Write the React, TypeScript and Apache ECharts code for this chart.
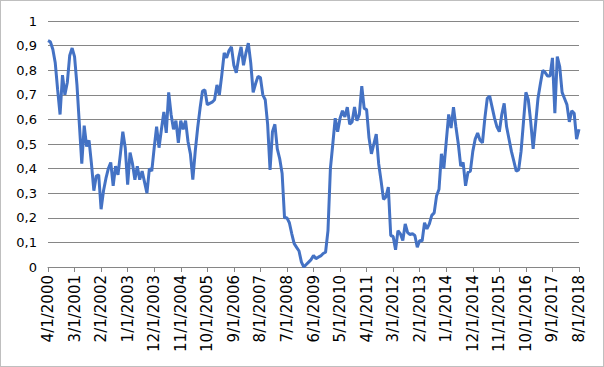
import React, { useEffect, useRef } from "react";
import * as echarts from "echarts";

// Monthly series, April 2000 .. August 2018 (221 points), split by period
const values2000to2002: number[] = [
  0.92, 0.915, 0.885, 0.83, 0.72, 0.62, 0.78, 0.70, 0.75, 0.86, 0.89, 0.855,
  0.74, 0.58, 0.42, 0.575, 0.49, 0.515, 0.42, 0.31, 0.37, 0.375, 0.235, 0.31,
  0.36, 0.40, 0.425, 0.33, 0.41, 0.375, 0.46, 0.55, 0.485, 0.335, 0.465, 0.42,
];
const values2003to2005: number[] = [
  0.355, 0.41, 0.355, 0.39, 0.345, 0.30, 0.40, 0.39, 0.485, 0.57, 0.485, 0.56,
  0.63, 0.545, 0.71, 0.62, 0.56, 0.595, 0.505, 0.595, 0.56, 0.595, 0.51, 0.46,
  0.355, 0.47, 0.565, 0.645, 0.715, 0.72, 0.66, 0.665, 0.67, 0.68, 0.74, 0.70,
];
const values2006to2008: number[] = [
  0.78, 0.87, 0.85, 0.88, 0.895, 0.82, 0.79, 0.85, 0.895, 0.82, 0.87, 0.91,
  0.83, 0.71, 0.745, 0.775, 0.77, 0.70, 0.68, 0.58, 0.395, 0.55, 0.58, 0.48,
  0.44, 0.38, 0.20, 0.20, 0.18, 0.135, 0.095, 0.08, 0.065, 0.02, 0.0, 0.01,
];
const values2009to2011: number[] = [
  0.02, 0.03, 0.047, 0.034, 0.04, 0.045, 0.055, 0.06, 0.148, 0.40, 0.50, 0.605,
  0.55, 0.605, 0.635, 0.61, 0.65, 0.58, 0.59, 0.65, 0.595, 0.62, 0.735, 0.645,
  0.64, 0.525, 0.46, 0.50, 0.54, 0.42, 0.35, 0.275, 0.285, 0.325, 0.128, 0.124,
];
const values2012to2014: number[] = [
  0.07, 0.148, 0.135, 0.108, 0.175, 0.14, 0.132, 0.135, 0.128, 0.08, 0.108, 0.105,
  0.18, 0.155, 0.175, 0.21, 0.22, 0.29, 0.316, 0.46, 0.40, 0.51, 0.62, 0.565,
  0.65, 0.57, 0.50, 0.41, 0.425, 0.33, 0.385, 0.39, 0.47, 0.52, 0.545, 0.515,
];
const values2015to2018: number[] = [
  0.505, 0.605, 0.686, 0.695, 0.65, 0.605, 0.57, 0.55, 0.62, 0.665, 0.57, 0.52,
  0.47, 0.43, 0.39, 0.395, 0.47, 0.59, 0.71, 0.68, 0.59, 0.48, 0.58, 0.685,
  0.745, 0.80, 0.79, 0.776, 0.776, 0.85, 0.625, 0.855, 0.815, 0.71, 0.685, 0.66,
  0.59, 0.635, 0.625, 0.52, 0.56,
];

const values: number[] = [
  ...values2000to2002,
  ...values2003to2005,
  ...values2006to2008,
  ...values2009to2011,
  ...values2012to2014,
  ...values2015to2018,
];

const startYear = 2000;
const startMonth = 4;
const categories: string[] = values.map((_, i) => {
  const t = startMonth - 1 + i;
  return `${(t % 12) + 1}/1/${startYear + Math.floor(t / 12)}`;
});

const yTicks: number[] = [0, 0.1, 0.2, 0.3, 0.4, 0.5, 0.6, 0.7, 0.8, 0.9, 1];

export default function App() {
  const ref = useRef<HTMLDivElement>(null);
  useEffect(() => {
    document.body.style.margin = "0";
    if (!ref.current) return;
    const chart = echarts.init(ref.current, null, { renderer: "svg" });
    chart.setOption({
      animation: false,
      backgroundColor: "#ffffff",
      grid: { left: 47, right: 24, top: 20, bottom: 99, containLabel: false },
      xAxis: {
        type: "category",
        data: categories,
        boundaryGap: false,
        axisLine: { show: true, lineStyle: { color: "#868686", width: 1 } },
        axisTick: { show: true, interval: 10, length: 5, lineStyle: { color: "#868686" } },
        axisLabel: {
          interval: 10,
          rotate: 90,
          margin: 8,
          color: "#000",
          fontFamily: "DejaVu Sans",
          fontSize: 15,
        },
        splitLine: { show: false },
      },
      yAxis: {
        type: "value",
        min: yTicks[0],
        max: yTicks[yTicks.length - 1],
        interval: 0.1,
        axisLine: { show: false },
        axisTick: { show: false },
        axisLabel: {
          margin: 11,
          color: "#000",
          fontFamily: "DejaVu Sans",
          fontSize: 13,
          formatter: (v: number) => String(Math.round(v * 10) / 10).replace(".", ","),
        },
        splitLine: { show: true, lineStyle: { color: "#868686", width: 1 } },
      },
      series: [
        {
          type: "line",
          data: values,
          symbol: "none",
          smooth: false,
          lineStyle: { color: "#4472C4", width: 3 },
        },
      ],
    });
    return () => chart.dispose();
  }, []);
  return (
    <div
      style={{
        width: 602,
        height: 365,
        border: "1px solid #bfbfbf",
        background: "#fff",
      }}
    >
      <div ref={ref} style={{ width: 602, height: 365 }} />
    </div>
  );
}
